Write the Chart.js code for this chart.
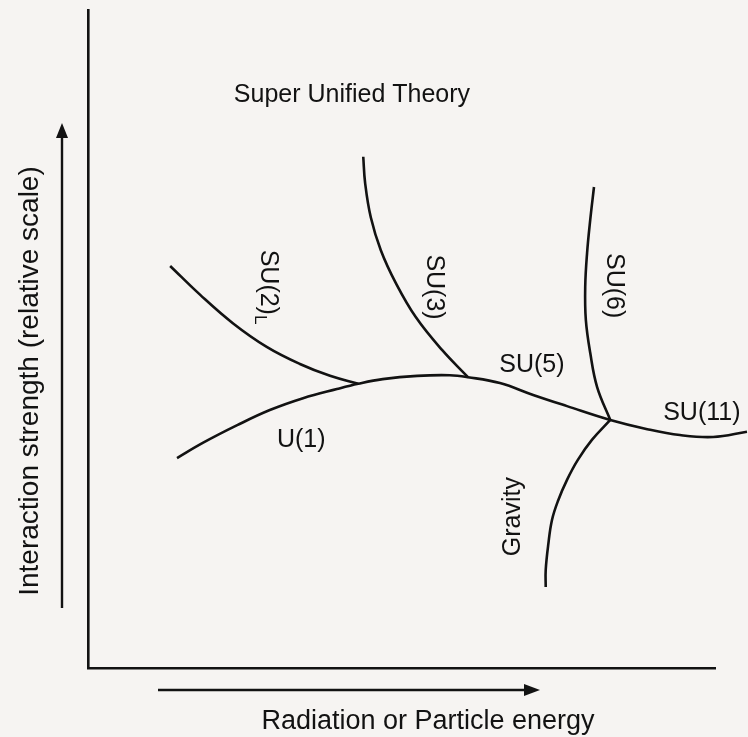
<!DOCTYPE html>
<html>
<head>
<meta charset="utf-8">
<script src="https://cdn.jsdelivr.net/npm/chart.js@4/dist/chart.umd.min.js"></script>
<style>
  html, body { margin: 0; padding: 0; background: #f6f4f2; }
  #c { display: block; }
</style>
</head>
<body>
<canvas id="c" width="748" height="737"></canvas>
<script>
// ---- Data (relative units: x = energy 0..100, y = interaction strength 0..100) ----
const u1Curve   = [[14.2,31.9],[18.3,34.2],[23.8,36.9],[29.0,39.2],[34.3,41.0],[39.7,42.4],[43.1,43.2]];
const su5Curve  = [[47.0,43.9],[52.5,44.4],[57.7,44.5],[60.6,44.2],[65.7,43.3],[71.0,41.5],[76.4,39.8],[83.3,37.7]];
const su11Curve = [[89.2,36.3],[94.4,35.4],[99.7,35.1],[105.1,35.9]];
const su2Curve  = [[13.1,61.1],[17.9,56.7],[23.1,52.4],[28.5,48.8],[33.8,46.2],[38.6,44.4],[43.1,43.2]];
const su3Curve  = [[43.9,77.7],[44.2,73.7],[45.1,68.5],[46.7,63.5],[49.1,58.5],[52.3,53.3],[56.5,48.3],[60.6,44.2]];
const su6Curve  = [[80.7,73.1],[80.1,68.1],[79.6,63.1],[79.3,57.9],[79.4,52.9],[80.1,47.9],[81.2,42.7],[83.3,37.7]];
const gravityCurve = [[83.3,37.7],[80.4,34.7],[78.1,31.6],[76.4,28.6],[75.0,25.5],[74.0,22.5],[73.4,18.7],[73.0,14.9],[73.0,12.3]];

// Labels
const chartTitle = 'Super Unified Theory';
const xTitle = 'Radiation or Particle energy';
const yTitle = 'Interaction strength (relative scale)';
const labelTexts = ['SU(2)', 'U(1)', 'SU(3)', 'SU(5)', 'SU(6)', 'SU(11)', 'Gravity'];
const labelSubs  = ['L', '', '', '', '', '', ''];
const labelAnchorX = [28.7, 34.0, 55.2, 70.8, 83.9, 97.9, 67.8];
const labelAnchorY = [57.9, 34.7, 57.9, 46.0, 58.1, 38.8, 23.0];
const labelAngle   = [90, 0, 90, 0, 90, 0, -90];
const titleAnchor  = [42.1, 87.1];

// ---- Build datasets ----
const toPts = arr => arr.map(p => ({x: p[0], y: p[1]}));
const INK = '#121212';
const lineStyle = {
  showLine: true, borderColor: INK, borderWidth: 2.6, pointRadius: 0,
  pointHoverRadius: 0, fill: false, tension: 0.4, clip: false
};
const mainCurve = [...u1Curve, ...su5Curve, ...su11Curve];
const datasets = [
  {label: 'U(1)–SU(5)–SU(11)', data: toPts(mainCurve), ...lineStyle},
  {label: 'SU(2)L', data: toPts(su2Curve), ...lineStyle},
  {label: 'SU(3)', data: toPts(su3Curve), ...lineStyle},
  {label: 'SU(6)', data: toPts(su6Curve), ...lineStyle},
  {label: 'Gravity', data: toPts(gravityCurve), ...lineStyle}
];

const FONT = '"Liberation Sans", Arial, Helvetica, sans-serif';

const annotate = {
  id: 'annotate',
  afterDatasetsDraw(chart) {
    const ctx = chart.ctx;
    const xs = chart.scales.x, ys = chart.scales.y;
    const ca = chart.chartArea;
    ctx.save();
    ctx.fillStyle = INK;
    ctx.strokeStyle = INK;
    ctx.textAlign = 'center';
    ctx.textBaseline = 'middle';

    // title inside plot
    ctx.font = '25px ' + FONT;
    ctx.fillText(chartTitle, xs.getPixelForValue(titleAnchor[0]), ys.getPixelForValue(titleAnchor[1]));

    // curve labels
    for (let i = 0; i < labelTexts.length; i++) {
      const px = xs.getPixelForValue(labelAnchorX[i]);
      const py = ys.getPixelForValue(labelAnchorY[i]);
      ctx.save();
      ctx.translate(px, py);
      ctx.rotate(labelAngle[i] * Math.PI / 180);
      ctx.font = '25px ' + FONT;
      const main = labelTexts[i], sub = labelSubs[i];
      if (sub) {
        const w1 = ctx.measureText(main).width;
        ctx.font = '17px ' + FONT;
        const w2 = ctx.measureText(sub).width;
        const start = -(w1 + w2) / 2;
        ctx.textAlign = 'left';
        ctx.font = '25px ' + FONT;
        ctx.fillText(main, start, 0);
        ctx.font = '17px ' + FONT;
        ctx.fillText(sub, start + w1, 8);
      } else {
        ctx.fillText(main, 0, 0);
      }
      ctx.restore();
    }

    // axis arrows
    ctx.lineWidth = 2.4;
    const vx = ca.left - 26, vBottom = ca.bottom - 60, vTop = ca.top + 113;
    ctx.beginPath(); ctx.moveTo(vx, vBottom); ctx.lineTo(vx, vTop + 12); ctx.stroke();
    ctx.beginPath(); ctx.moveTo(vx, vTop); ctx.lineTo(vx - 6, vTop + 15); ctx.lineTo(vx + 6, vTop + 15); ctx.closePath(); ctx.fill();
    const hy = ca.bottom + 22, hLeft = ca.left + 70, hRight = ca.left + 452;
    ctx.beginPath(); ctx.moveTo(hLeft, hy); ctx.lineTo(hRight - 12, hy); ctx.stroke();
    ctx.beginPath(); ctx.moveTo(hRight, hy); ctx.lineTo(hRight - 16, hy - 6); ctx.lineTo(hRight - 16, hy + 6); ctx.closePath(); ctx.fill();

    // axis titles
    ctx.font = '27px ' + FONT;
    ctx.fillText(xTitle, ca.left + 340, ca.bottom + 54);
    ctx.save();
    ctx.font = '28px ' + FONT;
    ctx.translate(ca.left - 58, (ca.top + ca.bottom) / 2 + 42);
    ctx.rotate(-Math.PI / 2);
    ctx.fillText(yTitle, 0, 0);
    ctx.restore();

    ctx.restore();
  }
};

new Chart(document.getElementById('c'), {
  type: 'scatter',
  data: { datasets },
  options: {
    responsive: false,
    animation: false,
    events: [],
    layout: { padding: { left: 88, right: 33, top: 10, bottom: 69 } },
    plugins: { legend: { display: false }, tooltip: { enabled: false } },
    scales: {
      x: {
        type: 'linear', min: 0, max: 100,
        ticks: { display: false },
        grid: { display: false, drawTicks: false },
        border: { display: true, color: INK, width: 2.6 }
      },
      y: {
        type: 'linear', min: 0, max: 100,
        ticks: { display: false },
        grid: { display: false, drawTicks: false },
        border: { display: true, color: INK, width: 2.6 }
      }
    }
  },
  plugins: [annotate]
});
</script>
</body>
</html>
